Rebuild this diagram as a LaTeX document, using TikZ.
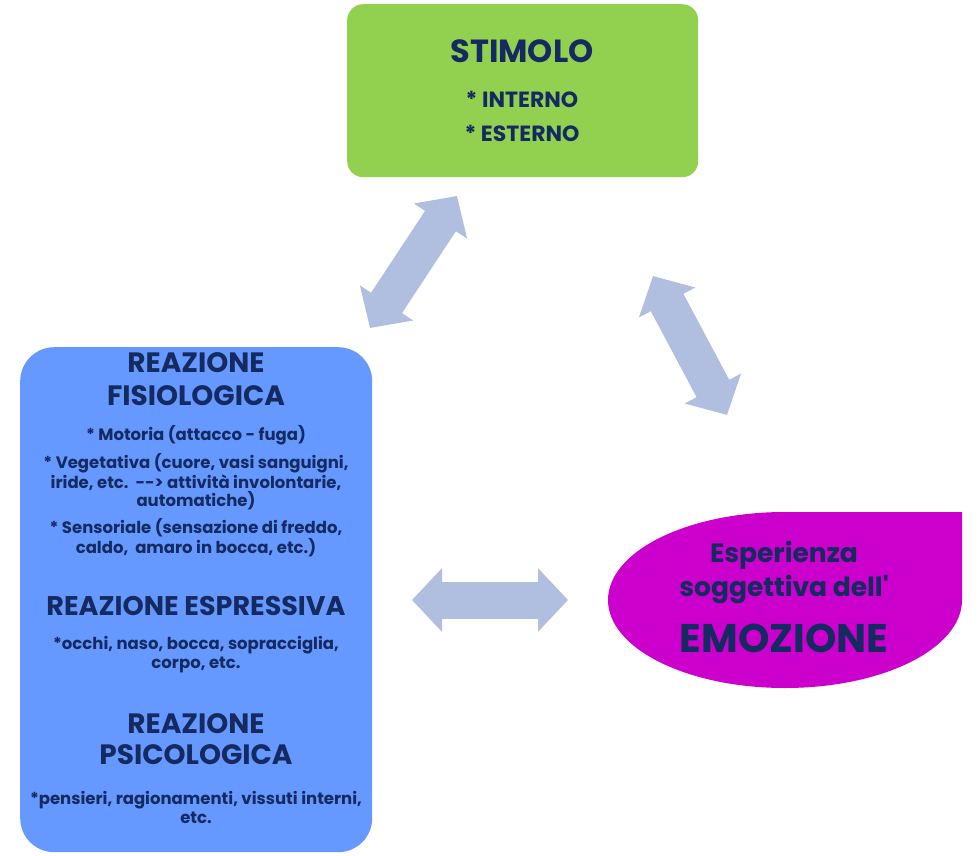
\documentclass[tikz,border=0pt]{standalone}
\usepackage{fontspec}
\setmainfont{Poppins}
\usetikzlibrary{arrows.meta}
\definecolor{stimgreen}{RGB}{146,208,80}
\definecolor{reazblue}{RGB}{102,153,255}
\definecolor{emomag}{RGB}{204,0,204}
\definecolor{arrowgray}{RGB}{176,190,224}
\definecolor{inknavy}{RGB}{20,42,96}
\newcommand{\fsz}[2]{\bfseries\fontsize{#1}{#2}\selectfont}

\begin{document}
\begin{tikzpicture}[x=1pt,y=-1pt,
    box/.style={rounded corners=#1, inner sep=0pt, anchor=north west},
    txt/.style={text=inknavy, align=center, inner sep=0pt},
    bigarrow/.style={draw=arrowgray, line width=37pt,
        {Triangle[length=30pt,width=62pt]}-{Triangle[length=30pt,width=62pt]}}]
    \useasboundingbox (0,0) rectangle (980,856);

    % boxes
    \node[box=16pt, fill=stimgreen, minimum width=351pt, minimum height=173pt] (stimolo) at (347,4) {};
    \node[box=34pt, fill=reazblue, minimum width=352pt, minimum height=505pt] (reazione) at (20,347) {};
    \fill[emomag] (962,600) -- (962,512) -- (785,512)
        arc[start angle=-90, end angle=-360, x radius=177, y radius=88] -- cycle;
    \coordinate (emozione) at (785,600);

    % stimolo
    \node[txt, font=\fsz{32}{38}] (stimT) at (522,51) {STIMOLO};
    \node[txt, font=\fsz{22}{34}] (stimL) at (522,116) {* INTERNO\\* ESTERNO};

    % reazioni
    \node[txt, font=\fsz{28}{33}] (fisioT) at (196,379) {REAZIONE\\FISIOLOGICA};
    \node[txt, font=\fsz{16.5}{18}] (fisioL) at (196,491) {* Motoria (attacco - fuga)\\[8pt]
        * Vegetativa (cuore, vasi sanguigni,\\iride, etc.\ \ -{}-{}> attività involontarie,\\automatiche)\\[8pt]
        * Sensoriale (sensazione di freddo,\\caldo,\ \ amaro in bocca, etc.)};
    \node[txt, font=\fsz{27}{33}] (esprT) at (196,606) {REAZIONE ESPRESSIVA};
    \node[txt, font=\fsz{16.5}{19}] (esprL) at (196,655) {*occhi, naso, bocca, sopracciglia,\\corpo, etc.};
    \node[txt, font=\fsz{28}{31}] (psicoT) at (196,739) {REAZIONE\\PSICOLOGICA};
    \node[txt, font=\fsz{16.5}{19}] (psicoL) at (196,807) {*pensieri, ragionamenti, vissuti interni,\\etc.};

    % emozione
    \node[txt, font=\fsz{26.5}{34}] (emoL) at (784,597) {Esperienza\\soggettiva dell\textquotesingle\\[19pt]\fsz{40}{44}EMOZIONE};

    % frecce
    \coordinate (a1) at (370,328);
    \coordinate (b1) at (457,196);
    \coordinate (a2) at (653,276);
    \coordinate (b2) at (727,415);
    \coordinate (a3) at (412,600);
    \coordinate (b3) at (568,600);
    \draw[bigarrow] (a1) -- (b1);
    \draw[bigarrow] (a2) -- (b2);
    \draw[bigarrow] (a3) -- (b3);
\end{tikzpicture}
\end{document}
